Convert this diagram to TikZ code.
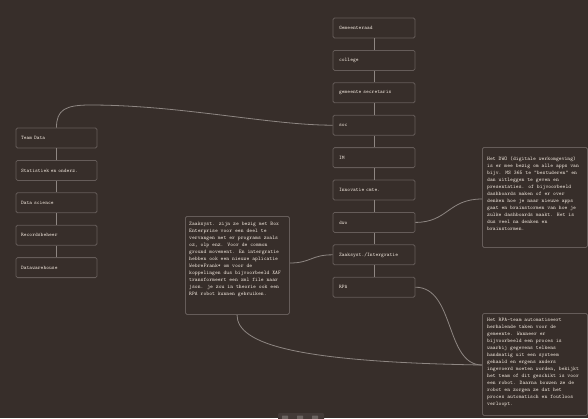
\documentclass[tikz,border=0pt]{standalone}
\usepackage{fontspec}
\definecolor{bg}{HTML}{372E2A}
\definecolor{bord}{HTML}{655C59}
\definecolor{edge}{HTML}{8E8682}
\definecolor{txt}{HTML}{EEE4DA}
\definecolor{tbar}{HTML}{433A37}
\definecolor{tbtn}{HTML}{6C6461}
\begin{document}
\begin{tikzpicture}[x=1pt,y=-1pt,
  box/.style={draw=bord, line width=0.8pt, rounded corners=1.5pt, fill=bg,
    minimum height=20pt, inner ysep=0pt, align=left, text=txt,
    font=\ttfamily\fontsize{5.3}{6}\selectfont},
  lbox/.style={box, inner xsep=5pt, text width=71pt},
  mbox/.style={box, inner xsep=6pt, text width=70pt},
  notebox/.style={draw=bord, line width=0.8pt, rounded corners=1.5pt, fill=bg,
    inner sep=0pt, anchor=north west},
  notetext/.style={anchor=north west, inner sep=0pt, align=left, text=txt,
    font=\ttfamily\fontsize{5.4}{7}\selectfont},
  chain/.style={draw=edge, line width=0.9pt},
  link/.style={draw=edge, line width=0.8pt}
]
\useasboundingbox (0,0) rectangle (588,418);
\fill[bg] (0,0) rectangle (588,418);

% left column
\node[lbox] (td) at (56.5,138) {Team Data};
\node[lbox] (st) at (56.5,170.4) {Statistiek en onderz.};
\node[lbox] (ds) at (56.5,202.8) {Data science};
\node[lbox] (rb) at (56.5,235.2) {Recordsbeheer};
\node[lbox] (dw) at (56.5,267.6) {Datawarehouse};

% middle column
\node[mbox] (m1) at (374,28) {Gemeenteraad};
\node[mbox] (m2) at (374,60.4) {college};
\node[mbox] (m3) at (374,92.8) {gemeente secretaris};
\node[mbox] (m4) at (374,125.2) {soc};
\node[mbox] (m5) at (374,157.6) {IM};
\node[mbox] (m6) at (374,190) {Innovatie cmte.};
\node[mbox] (m7) at (374,222.4) {dwo};
\node[mbox] (m8) at (374,254.8) {Zaaksyst./Intergratie};
\node[mbox] (m9) at (374,287.2) {RPA};

% note boxes
\node[notebox, minimum width=104pt, minimum height=98pt] (nz) at (185,216) {};
\node[notetext] (nzt) at (189,221.5) {Zaaksyst. zijn ze bezig met Box\\
Enterprise voor een deel te\\
vervangen met er programs zoals\\
oz, olp enz. Voor de common\\
ground movement. En intergratie\\
hebben ook een nieuwe aplicatie\\
WebreFrank* om voor de\\
koppelingen dus bijvoorbeeld XAF\\
transformeert een xml file naar\\
json. je zou in theorie ook een\\
RPA robot kunnen gebruiken.};

\node[notebox, minimum width=105pt, minimum height=100pt] (nd) at (482,147) {};
\node[notetext] (ndt) at (487,156.5) {Het DWO (digitale werkomgeving)\\
is er mee bezig om alle apps van\\
bijv. MS 365 te "bestuderen" en\\
dan uitleggen te geven en\\
presentaties. of bijvoorbeeld\\
dashboards maken of er over\\
denken hoe je naar nieuwe apps\\
gaat en brainstormen van hoe je\\
zulke dashboards maakt. Het is\\
dus veel na denken en\\
brainstormen.};

\node[notebox, minimum width=105pt, minimum height=102pt] (nr) at (482,313) {};
\node[notetext] (nrt) at (487,317.5) {Het RPA-team automatiseert\\
herhalende taken voor de\\
gemeente. Wanneer er\\
bijvoorbeeld een proces is\\
waarbij gegevens telkens\\
handmatig uit een systeem\\
gehaald en ergens anders\\
ingevoerd moeten worden, bekijkt\\
het team of dit geschikt is voor\\
een robot. Daarna bouwen ze de\\
robot en zorgen ze dat het\\
proces automatisch en foutloos\\
verloopt.};

% chains
\foreach \a/\b in {td/st,st/ds,ds/rb,rb/dw,m1/m2,m2/m3,m3/m4,m4/m5,m5/m6,m6/m7,m7/m8,m8/m9}
  \draw[chain] (\a.south) -- (\b.north);

% links
\coordinate (c1) at (90,105);
\draw[link] (td.north) .. controls (56.5,110) and (65,105) .. (c1)
  .. controls (180,105) and (270,125.2) .. (m4.west);
\draw[link] (m7.east) .. controls (448,222.4) and (448,199) .. (nd.west |- 0,199);
\draw[link] (m9.east) .. controls (455,287.2) and (445,365) .. (nr.west |- 0,365);
\draw[link] (nz.east |- 0,263) .. controls (311,263) and (311,254.8) .. (m8.west);
\draw[link] (nz.south -| 237,0) .. controls (237,345) and (300,362) .. (nr.west |- 0,365);

% toolbar at bottom
\fill[tbar, rounded corners=1pt] (278,413) rectangle (324,420);
\foreach \x in {282,297,312}
  \fill[tbtn, rounded corners=0.5pt] (\x,415.5) rectangle (\x+6,420);
\end{tikzpicture}
\end{document}
